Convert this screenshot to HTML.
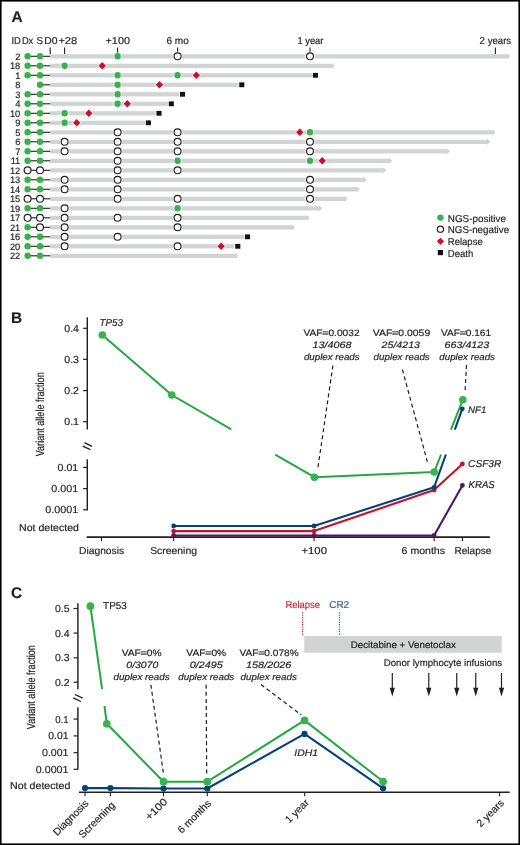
<!DOCTYPE html>
<html><head><meta charset="utf-8"><style>
html,body{margin:0;padding:0;background:#fff;}
svg{display:block;will-change:transform;}
text{font-family:"Liberation Sans", sans-serif;text-rendering:geometricPrecision;stroke:currentColor;stroke-width:0.18px;color:#231f20;}
</style></head><body>
<svg width="520" height="845" viewBox="0 0 520 845">
<rect width="520" height="845" fill="#fff"/>
<text x="11.40" y="21.90" style="font-size:15.4px;color:#231f20;stroke-width:0.18;font-weight:bold;" fill="#231f20" >A</text>
<text x="16.20" y="43.50" text-anchor="middle" textLength="9.40" lengthAdjust="spacingAndGlyphs" style="font-size:10.0px;color:#231f20;stroke-width:0.18;" fill="#231f20" >ID</text>
<text x="27.60" y="43.50" text-anchor="middle" textLength="11.40" lengthAdjust="spacingAndGlyphs" style="font-size:10.0px;color:#231f20;stroke-width:0.18;" fill="#231f20" >Dx</text>
<text x="39.70" y="43.50" text-anchor="middle" textLength="6.60" lengthAdjust="spacingAndGlyphs" style="font-size:10.0px;color:#231f20;stroke-width:0.18;" fill="#231f20" >S</text>
<text x="50.95" y="43.50" text-anchor="middle" textLength="13.30" lengthAdjust="spacingAndGlyphs" style="font-size:10.0px;color:#231f20;stroke-width:0.18;" fill="#231f20" >D0</text>
<text x="67.80" y="43.50" text-anchor="middle" textLength="18.80" lengthAdjust="spacingAndGlyphs" style="font-size:10.0px;color:#231f20;stroke-width:0.18;" fill="#231f20" >+28</text>
<text x="117.75" y="43.50" text-anchor="middle" textLength="24.50" lengthAdjust="spacingAndGlyphs" style="font-size:10.0px;color:#231f20;stroke-width:0.18;" fill="#231f20" >+100</text>
<text x="177.60" y="43.50" text-anchor="middle" textLength="22.40" lengthAdjust="spacingAndGlyphs" style="font-size:10.0px;color:#231f20;stroke-width:0.18;" fill="#231f20" >6 mo</text>
<text x="310.45" y="43.50" text-anchor="middle" textLength="25.90" lengthAdjust="spacingAndGlyphs" style="font-size:10.0px;color:#231f20;stroke-width:0.18;" fill="#231f20" >1 year</text>
<text x="495.40" y="43.50" text-anchor="middle" textLength="31.60" lengthAdjust="spacingAndGlyphs" style="font-size:10.0px;color:#231f20;stroke-width:0.18;" fill="#231f20" >2 years</text>
<line x1="50.20" y1="47.60" x2="50.20" y2="54.20" stroke="#231f20" stroke-width="1.1" />
<line x1="64.60" y1="47.60" x2="64.60" y2="54.20" stroke="#231f20" stroke-width="1.1" />
<line x1="117.60" y1="47.60" x2="117.60" y2="54.20" stroke="#231f20" stroke-width="1.1" />
<line x1="177.60" y1="47.60" x2="177.60" y2="54.20" stroke="#231f20" stroke-width="1.1" />
<line x1="310.00" y1="47.60" x2="310.00" y2="54.20" stroke="#231f20" stroke-width="1.1" />
<line x1="495.40" y1="47.60" x2="495.40" y2="54.20" stroke="#231f20" stroke-width="1.1" />
<text x="20.30" y="59.60" text-anchor="end" style="font-size:9.3px;color:#231f20;stroke-width:0.18;" fill="#231f20" >2</text>
<path d="M50.20,54.20 H507.40 V53.20 L510.40,56.30 L507.40,59.40 V58.40 H50.20 Z" fill="#d1d3d4"/>
<line x1="27.60" y1="56.30" x2="50.20" y2="56.30" stroke="#231f20" stroke-width="1.1" />
<circle cx="27.60" cy="56.30" r="3.2" fill="#36b34a"/>
<circle cx="40.00" cy="56.30" r="3.2" fill="#36b34a"/>
<circle cx="117.60" cy="56.30" r="3.9000000000000004" fill="#fff"/>
<circle cx="117.60" cy="56.30" r="3.2" fill="#36b34a"/>
<circle cx="177.60" cy="56.30" r="4.65" fill="#fff"/>
<circle cx="177.60" cy="56.30" r="3.45" fill="#fff" stroke="#231f20" stroke-width="1.15"/>
<circle cx="310.00" cy="56.30" r="4.65" fill="#fff"/>
<circle cx="310.00" cy="56.30" r="3.45" fill="#fff" stroke="#231f20" stroke-width="1.15"/>
<text x="20.30" y="69.10" text-anchor="end" style="font-size:9.3px;color:#231f20;stroke-width:0.18;" fill="#231f20" >18</text>
<path d="M50.20,63.70 H331.80 V62.70 L334.80,65.80 L331.80,68.90 V67.90 H50.20 Z" fill="#d1d3d4"/>
<line x1="27.60" y1="65.80" x2="50.20" y2="65.80" stroke="#231f20" stroke-width="1.1" />
<circle cx="27.60" cy="65.80" r="3.2" fill="#36b34a"/>
<circle cx="40.00" cy="65.80" r="3.2" fill="#36b34a"/>
<circle cx="64.60" cy="65.80" r="3.9000000000000004" fill="#fff"/>
<circle cx="64.60" cy="65.80" r="3.2" fill="#36b34a"/>
<polygon points="102.20,61.30 106.70,65.80 102.20,70.30 97.70,65.80" fill="#fff"/>
<polygon points="102.20,62.10 105.90,65.80 102.20,69.50 98.50,65.80" fill="#c8102e"/>
<text x="20.30" y="78.60" text-anchor="end" style="font-size:9.3px;color:#231f20;stroke-width:0.18;" fill="#231f20" >1</text>
<rect x="50.20" y="73.20" width="265.20" height="4.2" fill="#d1d3d4"/>
<line x1="27.60" y1="75.30" x2="50.20" y2="75.30" stroke="#231f20" stroke-width="1.1" />
<circle cx="27.60" cy="75.30" r="3.2" fill="#36b34a"/>
<circle cx="40.00" cy="75.30" r="3.2" fill="#36b34a"/>
<circle cx="117.60" cy="75.30" r="3.9000000000000004" fill="#fff"/>
<circle cx="117.60" cy="75.30" r="3.2" fill="#36b34a"/>
<circle cx="177.60" cy="75.30" r="3.9000000000000004" fill="#fff"/>
<circle cx="177.60" cy="75.30" r="3.2" fill="#36b34a"/>
<polygon points="196.30,70.80 200.80,75.30 196.30,79.80 191.80,75.30" fill="#fff"/>
<polygon points="196.30,71.60 200.00,75.30 196.30,79.00 192.60,75.30" fill="#c8102e"/>
<rect x="312.10" y="72.10" width="6.6" height="6.4" fill="#fff"/>
<rect x="312.85" y="72.90" width="5.1" height="4.8" fill="#111"/>
<text x="20.30" y="88.10" text-anchor="end" style="font-size:9.3px;color:#231f20;stroke-width:0.18;" fill="#231f20" >8</text>
<rect x="50.20" y="82.70" width="191.60" height="4.2" fill="#d1d3d4"/>
<line x1="40.00" y1="84.80" x2="50.20" y2="84.80" stroke="#231f20" stroke-width="1.1" />
<circle cx="40.00" cy="84.80" r="3.2" fill="#36b34a"/>
<circle cx="117.60" cy="84.80" r="3.9000000000000004" fill="#fff"/>
<circle cx="117.60" cy="84.80" r="3.2" fill="#36b34a"/>
<polygon points="159.40,80.30 163.90,84.80 159.40,89.30 154.90,84.80" fill="#fff"/>
<polygon points="159.40,81.10 163.10,84.80 159.40,88.50 155.70,84.80" fill="#c8102e"/>
<rect x="238.50" y="81.60" width="6.6" height="6.4" fill="#fff"/>
<rect x="239.25" y="82.40" width="5.1" height="4.8" fill="#111"/>
<text x="20.30" y="97.60" text-anchor="end" style="font-size:9.3px;color:#231f20;stroke-width:0.18;" fill="#231f20" >3</text>
<rect x="50.20" y="92.20" width="132.30" height="4.2" fill="#d1d3d4"/>
<line x1="27.60" y1="94.30" x2="50.20" y2="94.30" stroke="#231f20" stroke-width="1.1" />
<circle cx="27.60" cy="94.30" r="3.2" fill="#36b34a"/>
<circle cx="40.00" cy="94.30" r="3.2" fill="#36b34a"/>
<circle cx="117.60" cy="94.30" r="3.9000000000000004" fill="#fff"/>
<circle cx="117.60" cy="94.30" r="3.2" fill="#36b34a"/>
<rect x="179.20" y="91.10" width="6.6" height="6.4" fill="#fff"/>
<rect x="179.95" y="91.90" width="5.1" height="4.8" fill="#111"/>
<text x="20.30" y="107.10" text-anchor="end" style="font-size:9.3px;color:#231f20;stroke-width:0.18;" fill="#231f20" >4</text>
<rect x="50.20" y="101.70" width="121.10" height="4.2" fill="#d1d3d4"/>
<line x1="27.60" y1="103.80" x2="50.20" y2="103.80" stroke="#231f20" stroke-width="1.1" />
<circle cx="27.60" cy="103.80" r="3.2" fill="#36b34a"/>
<circle cx="40.00" cy="103.80" r="3.2" fill="#36b34a"/>
<circle cx="117.60" cy="103.80" r="3.9000000000000004" fill="#fff"/>
<circle cx="117.60" cy="103.80" r="3.2" fill="#36b34a"/>
<polygon points="127.30,99.30 131.80,103.80 127.30,108.30 122.80,103.80" fill="#fff"/>
<polygon points="127.30,100.10 131.00,103.80 127.30,107.50 123.60,103.80" fill="#c8102e"/>
<rect x="168.00" y="100.60" width="6.6" height="6.4" fill="#fff"/>
<rect x="168.75" y="101.40" width="5.1" height="4.8" fill="#111"/>
<text x="20.30" y="116.60" text-anchor="end" style="font-size:9.3px;color:#231f20;stroke-width:0.18;" fill="#231f20" >10</text>
<rect x="50.20" y="111.20" width="108.80" height="4.2" fill="#d1d3d4"/>
<line x1="27.60" y1="113.30" x2="50.20" y2="113.30" stroke="#231f20" stroke-width="1.1" />
<circle cx="27.60" cy="113.30" r="3.2" fill="#36b34a"/>
<circle cx="40.00" cy="113.30" r="3.2" fill="#36b34a"/>
<circle cx="64.60" cy="113.30" r="3.9000000000000004" fill="#fff"/>
<circle cx="64.60" cy="113.30" r="3.2" fill="#36b34a"/>
<polygon points="88.80,108.80 93.30,113.30 88.80,117.80 84.30,113.30" fill="#fff"/>
<polygon points="88.80,109.60 92.50,113.30 88.80,117.00 85.10,113.30" fill="#c8102e"/>
<rect x="155.70" y="110.10" width="6.6" height="6.4" fill="#fff"/>
<rect x="156.45" y="110.90" width="5.1" height="4.8" fill="#111"/>
<text x="20.30" y="126.10" text-anchor="end" style="font-size:9.3px;color:#231f20;stroke-width:0.18;" fill="#231f20" >9</text>
<rect x="50.20" y="120.70" width="98.20" height="4.2" fill="#d1d3d4"/>
<line x1="27.60" y1="122.80" x2="50.20" y2="122.80" stroke="#231f20" stroke-width="1.1" />
<circle cx="27.60" cy="122.80" r="3.2" fill="#36b34a"/>
<circle cx="40.00" cy="122.80" r="3.2" fill="#36b34a"/>
<circle cx="64.60" cy="122.80" r="3.9000000000000004" fill="#fff"/>
<circle cx="64.60" cy="122.80" r="3.2" fill="#36b34a"/>
<polygon points="76.70,118.30 81.20,122.80 76.70,127.30 72.20,122.80" fill="#fff"/>
<polygon points="76.70,119.10 80.40,122.80 76.70,126.50 73.00,122.80" fill="#c8102e"/>
<rect x="145.10" y="119.60" width="6.6" height="6.4" fill="#fff"/>
<rect x="145.85" y="120.40" width="5.1" height="4.8" fill="#111"/>
<text x="20.30" y="135.60" text-anchor="end" style="font-size:9.3px;color:#231f20;stroke-width:0.18;" fill="#231f20" >5</text>
<path d="M50.20,130.20 H492.50 V129.20 L495.50,132.30 L492.50,135.40 V134.40 H50.20 Z" fill="#d1d3d4"/>
<line x1="27.60" y1="132.30" x2="50.20" y2="132.30" stroke="#231f20" stroke-width="1.1" />
<circle cx="27.60" cy="132.30" r="3.2" fill="#36b34a"/>
<circle cx="40.00" cy="132.30" r="3.2" fill="#36b34a"/>
<circle cx="117.60" cy="132.30" r="4.65" fill="#fff"/>
<circle cx="117.60" cy="132.30" r="3.45" fill="#fff" stroke="#231f20" stroke-width="1.15"/>
<circle cx="177.60" cy="132.30" r="4.65" fill="#fff"/>
<circle cx="177.60" cy="132.30" r="3.45" fill="#fff" stroke="#231f20" stroke-width="1.15"/>
<polygon points="299.80,127.80 304.30,132.30 299.80,136.80 295.30,132.30" fill="#fff"/>
<polygon points="299.80,128.60 303.50,132.30 299.80,136.00 296.10,132.30" fill="#c8102e"/>
<circle cx="310.00" cy="132.30" r="3.9000000000000004" fill="#fff"/>
<circle cx="310.00" cy="132.30" r="3.2" fill="#36b34a"/>
<text x="20.30" y="145.10" text-anchor="end" style="font-size:9.3px;color:#231f20;stroke-width:0.18;" fill="#231f20" >6</text>
<path d="M50.20,139.70 H487.20 V138.70 L490.20,141.80 L487.20,144.90 V143.90 H50.20 Z" fill="#d1d3d4"/>
<line x1="27.60" y1="141.80" x2="50.20" y2="141.80" stroke="#231f20" stroke-width="1.1" />
<circle cx="27.60" cy="141.80" r="3.2" fill="#36b34a"/>
<circle cx="40.00" cy="141.80" r="3.2" fill="#36b34a"/>
<circle cx="64.60" cy="141.80" r="4.65" fill="#fff"/>
<circle cx="64.60" cy="141.80" r="3.45" fill="#fff" stroke="#231f20" stroke-width="1.15"/>
<circle cx="117.60" cy="141.80" r="4.65" fill="#fff"/>
<circle cx="117.60" cy="141.80" r="3.45" fill="#fff" stroke="#231f20" stroke-width="1.15"/>
<circle cx="177.60" cy="141.80" r="4.65" fill="#fff"/>
<circle cx="177.60" cy="141.80" r="3.45" fill="#fff" stroke="#231f20" stroke-width="1.15"/>
<circle cx="310.00" cy="141.80" r="4.65" fill="#fff"/>
<circle cx="310.00" cy="141.80" r="3.45" fill="#fff" stroke="#231f20" stroke-width="1.15"/>
<text x="20.30" y="154.60" text-anchor="end" style="font-size:9.3px;color:#231f20;stroke-width:0.18;" fill="#231f20" >7</text>
<path d="M50.20,149.20 H446.80 V148.20 L449.80,151.30 L446.80,154.40 V153.40 H50.20 Z" fill="#d1d3d4"/>
<line x1="27.60" y1="151.30" x2="50.20" y2="151.30" stroke="#231f20" stroke-width="1.1" />
<circle cx="27.60" cy="151.30" r="3.2" fill="#36b34a"/>
<circle cx="40.00" cy="151.30" r="3.2" fill="#36b34a"/>
<circle cx="64.60" cy="151.30" r="4.65" fill="#fff"/>
<circle cx="64.60" cy="151.30" r="3.45" fill="#fff" stroke="#231f20" stroke-width="1.15"/>
<circle cx="117.60" cy="151.30" r="4.65" fill="#fff"/>
<circle cx="117.60" cy="151.30" r="3.45" fill="#fff" stroke="#231f20" stroke-width="1.15"/>
<circle cx="177.60" cy="151.30" r="4.65" fill="#fff"/>
<circle cx="177.60" cy="151.30" r="3.45" fill="#fff" stroke="#231f20" stroke-width="1.15"/>
<circle cx="310.00" cy="151.30" r="4.65" fill="#fff"/>
<circle cx="310.00" cy="151.30" r="3.45" fill="#fff" stroke="#231f20" stroke-width="1.15"/>
<text x="20.30" y="164.10" text-anchor="end" style="font-size:9.3px;color:#231f20;stroke-width:0.18;" fill="#231f20" >11</text>
<path d="M50.20,158.70 H389.30 V157.70 L392.30,160.80 L389.30,163.90 V162.90 H50.20 Z" fill="#d1d3d4"/>
<line x1="27.60" y1="160.80" x2="50.20" y2="160.80" stroke="#231f20" stroke-width="1.1" />
<circle cx="27.60" cy="160.80" r="3.2" fill="#36b34a"/>
<circle cx="40.00" cy="160.80" r="3.2" fill="#36b34a"/>
<circle cx="117.60" cy="160.80" r="4.65" fill="#fff"/>
<circle cx="117.60" cy="160.80" r="3.45" fill="#fff" stroke="#231f20" stroke-width="1.15"/>
<circle cx="177.60" cy="160.80" r="3.9000000000000004" fill="#fff"/>
<circle cx="177.60" cy="160.80" r="3.2" fill="#36b34a"/>
<circle cx="310.00" cy="160.80" r="3.9000000000000004" fill="#fff"/>
<circle cx="310.00" cy="160.80" r="3.2" fill="#36b34a"/>
<polygon points="322.20,156.30 326.70,160.80 322.20,165.30 317.70,160.80" fill="#fff"/>
<polygon points="322.20,157.10 325.90,160.80 322.20,164.50 318.50,160.80" fill="#c8102e"/>
<text x="20.30" y="173.60" text-anchor="end" style="font-size:9.3px;color:#231f20;stroke-width:0.18;" fill="#231f20" >12</text>
<path d="M50.20,168.20 H383.10 V167.20 L386.10,170.30 L383.10,173.40 V172.40 H50.20 Z" fill="#d1d3d4"/>
<line x1="27.60" y1="170.30" x2="50.20" y2="170.30" stroke="#231f20" stroke-width="1.1" />
<circle cx="27.60" cy="170.30" r="3.45" fill="#fff" stroke="#231f20" stroke-width="1.15"/>
<circle cx="40.00" cy="170.30" r="3.45" fill="#fff" stroke="#231f20" stroke-width="1.15"/>
<circle cx="117.60" cy="170.30" r="4.65" fill="#fff"/>
<circle cx="117.60" cy="170.30" r="3.45" fill="#fff" stroke="#231f20" stroke-width="1.15"/>
<circle cx="177.60" cy="170.30" r="4.65" fill="#fff"/>
<circle cx="177.60" cy="170.30" r="3.45" fill="#fff" stroke="#231f20" stroke-width="1.15"/>
<text x="20.30" y="183.10" text-anchor="end" style="font-size:9.3px;color:#231f20;stroke-width:0.18;" fill="#231f20" >13</text>
<path d="M50.20,177.70 H363.70 V176.70 L366.70,179.80 L363.70,182.90 V181.90 H50.20 Z" fill="#d1d3d4"/>
<line x1="27.60" y1="179.80" x2="50.20" y2="179.80" stroke="#231f20" stroke-width="1.1" />
<circle cx="27.60" cy="179.80" r="3.2" fill="#36b34a"/>
<circle cx="40.00" cy="179.80" r="3.2" fill="#36b34a"/>
<circle cx="64.60" cy="179.80" r="4.65" fill="#fff"/>
<circle cx="64.60" cy="179.80" r="3.45" fill="#fff" stroke="#231f20" stroke-width="1.15"/>
<circle cx="117.60" cy="179.80" r="4.65" fill="#fff"/>
<circle cx="117.60" cy="179.80" r="3.45" fill="#fff" stroke="#231f20" stroke-width="1.15"/>
<circle cx="310.00" cy="179.80" r="4.65" fill="#fff"/>
<circle cx="310.00" cy="179.80" r="3.45" fill="#fff" stroke="#231f20" stroke-width="1.15"/>
<text x="20.30" y="192.60" text-anchor="end" style="font-size:9.3px;color:#231f20;stroke-width:0.18;" fill="#231f20" >14</text>
<path d="M50.20,187.20 H356.80 V186.20 L359.80,189.30 L356.80,192.40 V191.40 H50.20 Z" fill="#d1d3d4"/>
<line x1="27.60" y1="189.30" x2="50.20" y2="189.30" stroke="#231f20" stroke-width="1.1" />
<circle cx="27.60" cy="189.30" r="3.2" fill="#36b34a"/>
<circle cx="40.00" cy="189.30" r="3.2" fill="#36b34a"/>
<circle cx="64.60" cy="189.30" r="4.65" fill="#fff"/>
<circle cx="64.60" cy="189.30" r="3.45" fill="#fff" stroke="#231f20" stroke-width="1.15"/>
<circle cx="117.60" cy="189.30" r="4.65" fill="#fff"/>
<circle cx="117.60" cy="189.30" r="3.45" fill="#fff" stroke="#231f20" stroke-width="1.15"/>
<circle cx="310.00" cy="189.30" r="4.65" fill="#fff"/>
<circle cx="310.00" cy="189.30" r="3.45" fill="#fff" stroke="#231f20" stroke-width="1.15"/>
<text x="20.30" y="202.10" text-anchor="end" style="font-size:9.3px;color:#231f20;stroke-width:0.18;" fill="#231f20" >15</text>
<path d="M50.20,196.70 H344.70 V195.70 L347.70,198.80 L344.70,201.90 V200.90 H50.20 Z" fill="#d1d3d4"/>
<line x1="27.60" y1="198.80" x2="50.20" y2="198.80" stroke="#231f20" stroke-width="1.1" />
<circle cx="27.60" cy="198.80" r="3.45" fill="#fff" stroke="#231f20" stroke-width="1.15"/>
<circle cx="40.00" cy="198.80" r="3.45" fill="#fff" stroke="#231f20" stroke-width="1.15"/>
<circle cx="117.60" cy="198.80" r="4.65" fill="#fff"/>
<circle cx="117.60" cy="198.80" r="3.45" fill="#fff" stroke="#231f20" stroke-width="1.15"/>
<circle cx="177.60" cy="198.80" r="4.65" fill="#fff"/>
<circle cx="177.60" cy="198.80" r="3.45" fill="#fff" stroke="#231f20" stroke-width="1.15"/>
<circle cx="310.00" cy="198.80" r="4.65" fill="#fff"/>
<circle cx="310.00" cy="198.80" r="3.45" fill="#fff" stroke="#231f20" stroke-width="1.15"/>
<text x="20.30" y="211.60" text-anchor="end" style="font-size:9.3px;color:#231f20;stroke-width:0.18;" fill="#231f20" >19</text>
<path d="M50.20,206.20 H319.20 V205.20 L322.20,208.30 L319.20,211.40 V210.40 H50.20 Z" fill="#d1d3d4"/>
<line x1="27.60" y1="208.30" x2="50.20" y2="208.30" stroke="#231f20" stroke-width="1.1" />
<circle cx="27.60" cy="208.30" r="3.2" fill="#36b34a"/>
<circle cx="40.00" cy="208.30" r="3.2" fill="#36b34a"/>
<circle cx="64.60" cy="208.30" r="4.65" fill="#fff"/>
<circle cx="64.60" cy="208.30" r="3.45" fill="#fff" stroke="#231f20" stroke-width="1.15"/>
<circle cx="177.60" cy="208.30" r="3.9000000000000004" fill="#fff"/>
<circle cx="177.60" cy="208.30" r="3.2" fill="#36b34a"/>
<text x="20.30" y="221.10" text-anchor="end" style="font-size:9.3px;color:#231f20;stroke-width:0.18;" fill="#231f20" >17</text>
<path d="M50.20,215.70 H306.70 V214.70 L309.70,217.80 L306.70,220.90 V219.90 H50.20 Z" fill="#d1d3d4"/>
<line x1="27.60" y1="217.80" x2="50.20" y2="217.80" stroke="#231f20" stroke-width="1.1" />
<circle cx="27.60" cy="217.80" r="3.45" fill="#fff" stroke="#231f20" stroke-width="1.15"/>
<circle cx="40.00" cy="217.80" r="3.45" fill="#fff" stroke="#231f20" stroke-width="1.15"/>
<circle cx="64.60" cy="217.80" r="4.65" fill="#fff"/>
<circle cx="64.60" cy="217.80" r="3.45" fill="#fff" stroke="#231f20" stroke-width="1.15"/>
<circle cx="117.60" cy="217.80" r="4.65" fill="#fff"/>
<circle cx="117.60" cy="217.80" r="3.45" fill="#fff" stroke="#231f20" stroke-width="1.15"/>
<circle cx="177.60" cy="217.80" r="4.65" fill="#fff"/>
<circle cx="177.60" cy="217.80" r="3.45" fill="#fff" stroke="#231f20" stroke-width="1.15"/>
<text x="20.30" y="230.60" text-anchor="end" style="font-size:9.3px;color:#231f20;stroke-width:0.18;" fill="#231f20" >21</text>
<path d="M50.20,225.20 H292.10 V224.20 L295.10,227.30 L292.10,230.40 V229.40 H50.20 Z" fill="#d1d3d4"/>
<line x1="27.60" y1="227.30" x2="50.20" y2="227.30" stroke="#231f20" stroke-width="1.1" />
<circle cx="27.60" cy="227.30" r="3.2" fill="#36b34a"/>
<circle cx="40.00" cy="227.30" r="3.45" fill="#fff" stroke="#231f20" stroke-width="1.15"/>
<circle cx="64.60" cy="227.30" r="4.65" fill="#fff"/>
<circle cx="64.60" cy="227.30" r="3.45" fill="#fff" stroke="#231f20" stroke-width="1.15"/>
<circle cx="177.60" cy="227.30" r="4.65" fill="#fff"/>
<circle cx="177.60" cy="227.30" r="3.45" fill="#fff" stroke="#231f20" stroke-width="1.15"/>
<text x="20.30" y="240.10" text-anchor="end" style="font-size:9.3px;color:#231f20;stroke-width:0.18;" fill="#231f20" >16</text>
<rect x="50.20" y="234.70" width="197.30" height="4.2" fill="#d1d3d4"/>
<line x1="27.60" y1="236.80" x2="50.20" y2="236.80" stroke="#231f20" stroke-width="1.1" />
<circle cx="27.60" cy="236.80" r="3.2" fill="#36b34a"/>
<circle cx="40.00" cy="236.80" r="3.2" fill="#36b34a"/>
<circle cx="64.60" cy="236.80" r="4.65" fill="#fff"/>
<circle cx="64.60" cy="236.80" r="3.45" fill="#fff" stroke="#231f20" stroke-width="1.15"/>
<circle cx="117.60" cy="236.80" r="4.65" fill="#fff"/>
<circle cx="117.60" cy="236.80" r="3.45" fill="#fff" stroke="#231f20" stroke-width="1.15"/>
<rect x="244.20" y="233.60" width="6.6" height="6.4" fill="#fff"/>
<rect x="244.95" y="234.40" width="5.1" height="4.8" fill="#111"/>
<text x="20.30" y="249.60" text-anchor="end" style="font-size:9.3px;color:#231f20;stroke-width:0.18;" fill="#231f20" >20</text>
<rect x="50.20" y="244.20" width="187.60" height="4.2" fill="#d1d3d4"/>
<line x1="27.60" y1="246.30" x2="50.20" y2="246.30" stroke="#231f20" stroke-width="1.1" />
<circle cx="27.60" cy="246.30" r="3.2" fill="#36b34a"/>
<circle cx="40.00" cy="246.30" r="3.2" fill="#36b34a"/>
<circle cx="64.60" cy="246.30" r="4.65" fill="#fff"/>
<circle cx="64.60" cy="246.30" r="3.45" fill="#fff" stroke="#231f20" stroke-width="1.15"/>
<circle cx="177.60" cy="246.30" r="4.65" fill="#fff"/>
<circle cx="177.60" cy="246.30" r="3.45" fill="#fff" stroke="#231f20" stroke-width="1.15"/>
<polygon points="221.10,241.80 225.60,246.30 221.10,250.80 216.60,246.30" fill="#fff"/>
<polygon points="221.10,242.60 224.80,246.30 221.10,250.00 217.40,246.30" fill="#c8102e"/>
<rect x="234.50" y="243.10" width="6.6" height="6.4" fill="#fff"/>
<rect x="235.25" y="243.90" width="5.1" height="4.8" fill="#111"/>
<text x="20.30" y="259.10" text-anchor="end" style="font-size:9.3px;color:#231f20;stroke-width:0.18;" fill="#231f20" >22</text>
<path d="M50.20,253.70 H235.50 V252.70 L238.50,255.80 L235.50,258.90 V257.90 H50.20 Z" fill="#d1d3d4"/>
<line x1="27.60" y1="255.80" x2="50.20" y2="255.80" stroke="#231f20" stroke-width="1.1" />
<circle cx="27.60" cy="255.80" r="3.2" fill="#36b34a"/>
<circle cx="40.00" cy="255.80" r="3.2" fill="#36b34a"/>
<circle cx="440.40" cy="217.60" r="3.2" fill="#36b34a"/>
<text x="476.90" y="221.50" text-anchor="middle" textLength="58.20" lengthAdjust="spacingAndGlyphs" style="font-size:10px;color:#231f20;stroke-width:0.18;" fill="#231f20" >NGS-positive</text>
<circle cx="440.4" cy="229.2" r="3.1" fill="#fff" stroke="#231f20" stroke-width="1.15"/>
<text x="478.45" y="233.10" text-anchor="middle" textLength="61.30" lengthAdjust="spacingAndGlyphs" style="font-size:10px;color:#231f20;stroke-width:0.18;" fill="#231f20" >NGS-negative</text>
<polygon points="440.4,237.70000000000002 444.0,241.3 440.4,244.9 436.79999999999995,241.3" fill="#c8102e"/>
<text x="465.25" y="245.20" text-anchor="middle" textLength="34.90" lengthAdjust="spacingAndGlyphs" style="font-size:10px;color:#231f20;stroke-width:0.18;" fill="#231f20" >Relapse</text>
<rect x="437.79999999999995" y="250.0" width="5.2" height="5.2" fill="#111"/>
<text x="460.55" y="256.50" text-anchor="middle" textLength="25.50" lengthAdjust="spacingAndGlyphs" style="font-size:10px;color:#231f20;stroke-width:0.18;" fill="#231f20" >Death</text>
<text x="11.00" y="323.00" style="font-size:15.4px;color:#231f20;stroke-width:0.18;font-weight:bold;" fill="#231f20" >B</text>
<line x1="87.30" y1="317.30" x2="87.30" y2="429.50" stroke="#231f20" stroke-width="1.45" />
<line x1="83.10" y1="328.30" x2="87.30" y2="328.30" stroke="#231f20" stroke-width="1.2" />
<text x="71.65" y="331.70" text-anchor="middle" textLength="14.72" lengthAdjust="spacingAndGlyphs" style="font-size:10.2px;color:#231f20;stroke-width:0.18;" fill="#231f20" >0.4</text>
<line x1="83.10" y1="359.30" x2="87.30" y2="359.30" stroke="#231f20" stroke-width="1.2" />
<text x="71.65" y="362.70" text-anchor="middle" textLength="14.72" lengthAdjust="spacingAndGlyphs" style="font-size:10.2px;color:#231f20;stroke-width:0.18;" fill="#231f20" >0.3</text>
<line x1="83.10" y1="390.60" x2="87.30" y2="390.60" stroke="#231f20" stroke-width="1.2" />
<text x="71.65" y="394.00" text-anchor="middle" textLength="14.72" lengthAdjust="spacingAndGlyphs" style="font-size:10.2px;color:#231f20;stroke-width:0.18;" fill="#231f20" >0.2</text>
<line x1="83.10" y1="421.75" x2="87.30" y2="421.75" stroke="#231f20" stroke-width="1.2" />
<text x="71.65" y="425.15" text-anchor="middle" textLength="14.72" lengthAdjust="spacingAndGlyphs" style="font-size:10.2px;color:#231f20;stroke-width:0.18;" fill="#231f20" >0.1</text>
<line x1="87.30" y1="459.30" x2="87.30" y2="510.40" stroke="#231f20" stroke-width="1.45" />
<line x1="83.10" y1="467.40" x2="87.30" y2="467.40" stroke="#231f20" stroke-width="1.2" />
<text x="67.90" y="470.80" text-anchor="middle" textLength="20.62" lengthAdjust="spacingAndGlyphs" style="font-size:10.2px;color:#231f20;stroke-width:0.18;" fill="#231f20" >0.01</text>
<line x1="83.10" y1="488.60" x2="87.30" y2="488.60" stroke="#231f20" stroke-width="1.2" />
<text x="64.80" y="492.00" text-anchor="middle" textLength="26.82" lengthAdjust="spacingAndGlyphs" style="font-size:10.2px;color:#231f20;stroke-width:0.18;" fill="#231f20" >0.001</text>
<line x1="83.10" y1="509.80" x2="87.30" y2="509.80" stroke="#231f20" stroke-width="1.2" />
<text x="61.75" y="513.20" text-anchor="middle" textLength="32.92" lengthAdjust="spacingAndGlyphs" style="font-size:10.2px;color:#231f20;stroke-width:0.18;" fill="#231f20" >0.0001</text>
<line x1="84.50" y1="442.70" x2="91.90" y2="446.40" stroke="#231f20" stroke-width="1.3" />
<line x1="82.70" y1="446.20" x2="90.40" y2="449.60" stroke="#231f20" stroke-width="1.3" />
<text transform="translate(44.0,414.3) rotate(-90)" text-anchor="middle" textLength="84" lengthAdjust="spacingAndGlyphs" stroke="#231f20" stroke-width="0.25" style="font-size:11.7px;" fill="#231f20">Variant allele fraction</text>
<text x="49.00" y="530.60" text-anchor="middle" textLength="59.80" lengthAdjust="spacingAndGlyphs" style="font-size:10px;color:#231f20;stroke-width:0.18;" fill="#231f20" >Not detected</text>
<line x1="86.70" y1="537.15" x2="489.90" y2="537.15" stroke="#231f20" stroke-width="1.7" />
<line x1="101.50" y1="537.00" x2="101.50" y2="541.30" stroke="#231f20" stroke-width="1.1" />
<line x1="173.65" y1="537.00" x2="173.65" y2="541.30" stroke="#231f20" stroke-width="1.1" />
<line x1="314.05" y1="537.00" x2="314.05" y2="541.30" stroke="#231f20" stroke-width="1.1" />
<line x1="434.10" y1="537.00" x2="434.10" y2="541.30" stroke="#231f20" stroke-width="1.1" />
<line x1="462.40" y1="537.00" x2="462.40" y2="541.30" stroke="#231f20" stroke-width="1.1" />
<text x="101.60" y="553.60" text-anchor="middle" textLength="45.00" lengthAdjust="spacingAndGlyphs" style="font-size:10px;color:#231f20;stroke-width:0.18;" fill="#231f20" >Diagnosis</text>
<text x="173.60" y="553.60" text-anchor="middle" textLength="46.80" lengthAdjust="spacingAndGlyphs" style="font-size:10px;color:#231f20;stroke-width:0.18;" fill="#231f20" >Screening</text>
<text x="314.20" y="553.60" text-anchor="middle" textLength="25.60" lengthAdjust="spacingAndGlyphs" style="font-size:10px;color:#231f20;stroke-width:0.18;" fill="#231f20" >+100</text>
<text x="423.30" y="553.60" text-anchor="middle" textLength="43.40" lengthAdjust="spacingAndGlyphs" style="font-size:10px;color:#231f20;stroke-width:0.18;" fill="#231f20" >6 months</text>
<text x="472.95" y="553.60" text-anchor="middle" textLength="36.90" lengthAdjust="spacingAndGlyphs" style="font-size:10px;color:#231f20;stroke-width:0.18;" fill="#231f20" >Relapse</text>
<polyline points="173.65,535.50 314.05,535.50 434.10,535.50 462.40,485.40" fill="none" stroke="#4f1865" stroke-width="2.1" stroke-linejoin="round" />
<polyline points="173.65,531.10 314.05,531.10 434.10,490.00 462.40,463.90" fill="none" stroke="#c8102e" stroke-width="2.1" stroke-linejoin="round" />
<polyline points="173.65,526.00 314.05,526.00 434.10,487.30 445.90,454.50" fill="none" stroke="#064279" stroke-width="2.1" stroke-linejoin="round" />
<polyline points="454.80,429.60 462.30,408.80" fill="none" stroke="#064279" stroke-width="2.1" stroke-linejoin="round" />
<polyline points="102.30,335.00 171.80,395.00 231.30,429.30" fill="none" stroke="#22aa42" stroke-width="2.0" stroke-linejoin="round" />
<polyline points="275.20,454.60 314.40,477.20 434.20,472.00 441.05,454.50" fill="none" stroke="#22aa42" stroke-width="2.0" stroke-linejoin="round" />
<polyline points="450.90,429.60 462.80,399.80" fill="none" stroke="#22aa42" stroke-width="2.0" stroke-linejoin="round" />
<circle cx="173.65" cy="535.50" r="2.4" fill="#4f1865"/>
<circle cx="314.05" cy="535.50" r="2.4" fill="#4f1865"/>
<circle cx="434.10" cy="535.50" r="2.4" fill="#4f1865"/>
<circle cx="462.40" cy="485.40" r="2.4" fill="#4f1865"/>
<circle cx="173.65" cy="531.10" r="2.4" fill="#c8102e"/>
<circle cx="314.05" cy="531.10" r="2.4" fill="#c8102e"/>
<circle cx="434.10" cy="490.00" r="2.4" fill="#c8102e"/>
<circle cx="462.40" cy="463.90" r="2.4" fill="#c8102e"/>
<circle cx="173.65" cy="526.00" r="2.4" fill="#064279"/>
<circle cx="314.05" cy="526.00" r="2.4" fill="#064279"/>
<circle cx="434.10" cy="487.30" r="2.4" fill="#064279"/>
<circle cx="462.30" cy="408.80" r="2.4" fill="#064279"/>
<circle cx="102.30" cy="335.00" r="3.8" fill="#36b34a"/>
<circle cx="171.80" cy="395.00" r="3.8" fill="#36b34a"/>
<circle cx="314.40" cy="477.20" r="3.8" fill="#36b34a"/>
<circle cx="434.20" cy="472.00" r="3.8" fill="#36b34a"/>
<circle cx="462.80" cy="399.80" r="3.8" fill="#36b34a"/>
<text x="111.25" y="325.80" text-anchor="middle" textLength="23.30" lengthAdjust="spacingAndGlyphs" style="font-size:10px;color:#231f20;stroke-width:0.18;font-style:italic;" fill="#231f20" >TP53</text>
<text x="477.25" y="413.20" text-anchor="middle" textLength="18.24" lengthAdjust="spacingAndGlyphs" style="font-size:9.3px;color:#231f20;stroke-width:0.18;font-style:italic;" fill="#231f20" >NF1</text>
<text x="484.70" y="467.00" text-anchor="middle" textLength="33.20" lengthAdjust="spacingAndGlyphs" style="font-size:10px;color:#231f20;stroke-width:0.18;font-style:italic;" fill="#231f20" >CSF3R</text>
<text x="481.65" y="487.50" text-anchor="middle" textLength="26.30" lengthAdjust="spacingAndGlyphs" style="font-size:10px;color:#231f20;stroke-width:0.18;font-style:italic;" fill="#231f20" >KRAS</text>
<text x="331.50" y="335.60" text-anchor="middle" textLength="56.14" lengthAdjust="spacingAndGlyphs" style="font-size:9.3px;color:#231f20;stroke-width:0.18;" fill="#231f20" >VAF<tspan fill="#7a7a7a" stroke="#7a7a7a" stroke-width="0.9">=</tspan>0.0032</text>
<text x="332.10" y="347.90" text-anchor="middle" textLength="38.94" lengthAdjust="spacingAndGlyphs" style="font-size:9.3px;color:#231f20;stroke-width:0.18;font-style:italic;" fill="#231f20" >13/4068</text>
<text x="331.75" y="359.50" text-anchor="middle" textLength="55.64" lengthAdjust="spacingAndGlyphs" style="font-size:9.3px;color:#231f20;stroke-width:0.18;font-style:italic;" fill="#231f20" >duplex reads</text>
<text x="401.50" y="335.60" text-anchor="middle" textLength="57.34" lengthAdjust="spacingAndGlyphs" style="font-size:9.3px;color:#231f20;stroke-width:0.18;" fill="#231f20" >VAF<tspan fill="#7a7a7a" stroke="#7a7a7a" stroke-width="0.9">=</tspan>0.0059</text>
<text x="400.80" y="347.90" text-anchor="middle" textLength="38.34" lengthAdjust="spacingAndGlyphs" style="font-size:9.3px;color:#231f20;stroke-width:0.18;font-style:italic;" fill="#231f20" >25/4213</text>
<text x="401.70" y="359.50" text-anchor="middle" textLength="56.14" lengthAdjust="spacingAndGlyphs" style="font-size:9.3px;color:#231f20;stroke-width:0.18;font-style:italic;" fill="#231f20" >duplex reads</text>
<text x="466.10" y="335.60" text-anchor="middle" textLength="49.94" lengthAdjust="spacingAndGlyphs" style="font-size:9.3px;color:#231f20;stroke-width:0.18;" fill="#231f20" >VAF<tspan fill="#7a7a7a" stroke="#7a7a7a" stroke-width="0.9">=</tspan>0.161</text>
<text x="466.90" y="347.90" text-anchor="middle" textLength="44.54" lengthAdjust="spacingAndGlyphs" style="font-size:9.3px;color:#231f20;stroke-width:0.18;font-style:italic;" fill="#231f20" >663/4123</text>
<text x="467.15" y="359.50" text-anchor="middle" textLength="55.64" lengthAdjust="spacingAndGlyphs" style="font-size:9.3px;color:#231f20;stroke-width:0.18;font-style:italic;" fill="#231f20" >duplex reads</text>
<line x1="332.90" y1="365.50" x2="318.00" y2="467.20" stroke="#231f20" stroke-width="1.2" stroke-dasharray="4,3.05"/>
<line x1="402.40" y1="369.60" x2="427.70" y2="463.00" stroke="#231f20" stroke-width="1.2" stroke-dasharray="4,3.05"/>
<line x1="466.50" y1="365.00" x2="465.10" y2="390.40" stroke="#231f20" stroke-width="1.2" stroke-dasharray="4,3.05"/>
<text x="11.00" y="598.00" style="font-size:15.4px;color:#231f20;stroke-width:0.18;font-weight:bold;" fill="#231f20" >C</text>
<line x1="77.90" y1="603.30" x2="77.90" y2="689.20" stroke="#231f20" stroke-width="1.45" />
<line x1="73.60" y1="608.50" x2="77.90" y2="608.50" stroke="#231f20" stroke-width="1.2" />
<text x="62.30" y="612.00" text-anchor="middle" textLength="14.62" lengthAdjust="spacingAndGlyphs" style="font-size:10.2px;color:#231f20;stroke-width:0.18;" fill="#231f20" >0.5</text>
<line x1="73.60" y1="633.10" x2="77.90" y2="633.10" stroke="#231f20" stroke-width="1.2" />
<text x="62.30" y="636.60" text-anchor="middle" textLength="14.62" lengthAdjust="spacingAndGlyphs" style="font-size:10.2px;color:#231f20;stroke-width:0.18;" fill="#231f20" >0.4</text>
<line x1="73.60" y1="657.80" x2="77.90" y2="657.80" stroke="#231f20" stroke-width="1.2" />
<text x="62.30" y="661.30" text-anchor="middle" textLength="14.62" lengthAdjust="spacingAndGlyphs" style="font-size:10.2px;color:#231f20;stroke-width:0.18;" fill="#231f20" >0.3</text>
<line x1="73.60" y1="682.20" x2="77.90" y2="682.20" stroke="#231f20" stroke-width="1.2" />
<text x="62.30" y="685.70" text-anchor="middle" textLength="14.62" lengthAdjust="spacingAndGlyphs" style="font-size:10.2px;color:#231f20;stroke-width:0.18;" fill="#231f20" >0.2</text>
<line x1="77.90" y1="707.30" x2="77.90" y2="769.50" stroke="#231f20" stroke-width="1.45" />
<line x1="73.60" y1="719.10" x2="77.90" y2="719.10" stroke="#231f20" stroke-width="1.2" />
<text x="61.85" y="722.60" text-anchor="middle" textLength="13.32" lengthAdjust="spacingAndGlyphs" style="font-size:10.2px;color:#231f20;stroke-width:0.18;" fill="#231f20" >0.1</text>
<line x1="73.60" y1="735.90" x2="77.90" y2="735.90" stroke="#231f20" stroke-width="1.2" />
<text x="58.35" y="739.40" text-anchor="middle" textLength="20.32" lengthAdjust="spacingAndGlyphs" style="font-size:10.2px;color:#231f20;stroke-width:0.18;" fill="#231f20" >0.01</text>
<line x1="73.60" y1="752.70" x2="77.90" y2="752.70" stroke="#231f20" stroke-width="1.2" />
<text x="55.25" y="756.20" text-anchor="middle" textLength="26.52" lengthAdjust="spacingAndGlyphs" style="font-size:10.2px;color:#231f20;stroke-width:0.18;" fill="#231f20" >0.001</text>
<line x1="73.60" y1="769.30" x2="77.90" y2="769.30" stroke="#231f20" stroke-width="1.2" />
<text x="52.20" y="772.80" text-anchor="middle" textLength="32.62" lengthAdjust="spacingAndGlyphs" style="font-size:10.2px;color:#231f20;stroke-width:0.18;" fill="#231f20" >0.0001</text>
<line x1="75.00" y1="694.50" x2="82.70" y2="698.20" stroke="#231f20" stroke-width="1.3" />
<line x1="73.30" y1="697.90" x2="80.90" y2="701.50" stroke="#231f20" stroke-width="1.3" />
<text transform="translate(35.3,687.2) rotate(-90)" text-anchor="middle" textLength="84" lengthAdjust="spacingAndGlyphs" stroke="#231f20" stroke-width="0.25" style="font-size:11.7px;" fill="#231f20">Variant allele fraction</text>
<text x="40.25" y="789.00" text-anchor="middle" textLength="60.30" lengthAdjust="spacingAndGlyphs" style="font-size:10px;color:#231f20;stroke-width:0.18;" fill="#231f20" >Not detected</text>
<line x1="79.00" y1="792.25" x2="509.70" y2="792.25" stroke="#231f20" stroke-width="1.7" />
<line x1="85.00" y1="792.00" x2="85.00" y2="796.30" stroke="#231f20" stroke-width="1.1" />
<line x1="110.40" y1="792.00" x2="110.40" y2="796.30" stroke="#231f20" stroke-width="1.1" />
<line x1="163.50" y1="792.00" x2="163.50" y2="796.30" stroke="#231f20" stroke-width="1.1" />
<line x1="207.30" y1="792.00" x2="207.30" y2="796.30" stroke="#231f20" stroke-width="1.1" />
<line x1="304.70" y1="792.00" x2="304.70" y2="796.30" stroke="#231f20" stroke-width="1.1" />
<line x1="499.60" y1="792.00" x2="499.60" y2="796.30" stroke="#231f20" stroke-width="1.1" />
<text transform="translate(89.10,804.20) rotate(-45)" text-anchor="end"  style="font-size:10.3px;" fill="#231f20">Diagnosis</text>
<text transform="translate(115.60,806.00) rotate(-45)" text-anchor="end"  style="font-size:10.3px;" fill="#231f20">Screening</text>
<text transform="translate(167.90,802.40) rotate(-45)" text-anchor="end" textLength="25.9" lengthAdjust="spacingAndGlyphs" style="font-size:10.3px;" fill="#231f20">+100</text>
<text transform="translate(211.80,804.00) rotate(-45)" text-anchor="end"  style="font-size:10.3px;" fill="#231f20">6 months</text>
<text transform="translate(309.60,803.30) rotate(-45)" text-anchor="end"  style="font-size:10.3px;" fill="#231f20">1 year</text>
<text transform="translate(504.70,803.70) rotate(-45)" text-anchor="end"  style="font-size:10.3px;" fill="#231f20">2 years</text>
<polyline points="85.00,788.10 110.40,788.10 163.50,788.50 207.30,788.50 304.50,733.90 383.10,788.30" fill="none" stroke="#064279" stroke-width="2.1" stroke-linejoin="round" />
<polyline points="90.40,606.20 102.10,689.10" fill="none" stroke="#22aa42" stroke-width="2.0" stroke-linejoin="round" />
<polyline points="104.50,706.00 106.80,723.80 163.50,781.70 207.30,781.70 304.50,720.40 383.10,781.50" fill="none" stroke="#22aa42" stroke-width="2.0" stroke-linejoin="round" />
<circle cx="85.00" cy="788.10" r="3.1" fill="#064279"/>
<circle cx="110.40" cy="788.10" r="3.1" fill="#064279"/>
<circle cx="163.50" cy="788.50" r="3.1" fill="#064279"/>
<circle cx="207.30" cy="788.50" r="3.1" fill="#064279"/>
<circle cx="304.50" cy="733.90" r="3.1" fill="#064279"/>
<circle cx="383.10" cy="788.30" r="3.1" fill="#064279"/>
<circle cx="90.40" cy="606.20" r="3.85" fill="#36b34a"/>
<circle cx="106.80" cy="723.80" r="3.85" fill="#36b34a"/>
<circle cx="163.50" cy="781.70" r="3.85" fill="#36b34a"/>
<circle cx="207.30" cy="781.70" r="3.85" fill="#36b34a"/>
<circle cx="304.50" cy="720.40" r="3.85" fill="#36b34a"/>
<circle cx="383.10" cy="781.50" r="3.85" fill="#36b34a"/>
<text x="115.00" y="608.60" text-anchor="middle" textLength="23.80" lengthAdjust="spacingAndGlyphs" style="font-size:10px;color:#231f20;stroke-width:0.18;" fill="#231f20" >TP53</text>
<text x="306.20" y="756.40" text-anchor="middle" textLength="23.75" lengthAdjust="spacingAndGlyphs" style="font-size:9.4px;color:#231f20;stroke-width:0.18;font-style:italic;" fill="#231f20" >IDH1</text>
<text x="141.65" y="655.60" text-anchor="middle" textLength="39.84" lengthAdjust="spacingAndGlyphs" style="font-size:9.3px;color:#231f20;stroke-width:0.18;" fill="#231f20" >VAF<tspan fill="#7a7a7a" stroke="#7a7a7a" stroke-width="0.9">=</tspan>0%</text>
<text x="142.30" y="668.10" text-anchor="middle" textLength="31.94" lengthAdjust="spacingAndGlyphs" style="font-size:9.3px;color:#231f20;stroke-width:0.18;font-style:italic;" fill="#231f20" >0/3070</text>
<text x="141.60" y="679.60" text-anchor="middle" textLength="55.94" lengthAdjust="spacingAndGlyphs" style="font-size:9.3px;color:#231f20;stroke-width:0.18;font-style:italic;" fill="#231f20" >duplex reads</text>
<text x="206.25" y="655.60" text-anchor="middle" textLength="39.84" lengthAdjust="spacingAndGlyphs" style="font-size:9.3px;color:#231f20;stroke-width:0.18;" fill="#231f20" >VAF<tspan fill="#7a7a7a" stroke="#7a7a7a" stroke-width="0.9">=</tspan>0%</text>
<text x="206.25" y="668.10" text-anchor="middle" textLength="32.84" lengthAdjust="spacingAndGlyphs" style="font-size:9.3px;color:#231f20;stroke-width:0.18;font-style:italic;" fill="#231f20" >0/2495</text>
<text x="206.30" y="679.60" text-anchor="middle" textLength="55.94" lengthAdjust="spacingAndGlyphs" style="font-size:9.3px;color:#231f20;stroke-width:0.18;font-style:italic;" fill="#231f20" >duplex reads</text>
<text x="269.10" y="655.60" text-anchor="middle" textLength="59.14" lengthAdjust="spacingAndGlyphs" style="font-size:9.3px;color:#231f20;stroke-width:0.18;" fill="#231f20" >VAF<tspan fill="#7a7a7a" stroke="#7a7a7a" stroke-width="0.9">=</tspan>0.078%</text>
<text x="268.70" y="668.10" text-anchor="middle" textLength="45.34" lengthAdjust="spacingAndGlyphs" style="font-size:9.3px;color:#231f20;stroke-width:0.18;font-style:italic;" fill="#231f20" >158/2026</text>
<text x="268.75" y="679.60" text-anchor="middle" textLength="56.24" lengthAdjust="spacingAndGlyphs" style="font-size:9.3px;color:#231f20;stroke-width:0.18;font-style:italic;" fill="#231f20" >duplex reads</text>
<line x1="150.90" y1="684.80" x2="163.50" y2="774.00" stroke="#231f20" stroke-width="1.2" stroke-dasharray="4,3.05"/>
<line x1="206.10" y1="684.80" x2="206.70" y2="774.00" stroke="#231f20" stroke-width="1.2" stroke-dasharray="4,3.05"/>
<line x1="261.00" y1="684.60" x2="301.20" y2="714.90" stroke="#231f20" stroke-width="1.2" stroke-dasharray="4,3.05"/>
<text x="302.75" y="607.70" text-anchor="middle" textLength="34.70" lengthAdjust="spacingAndGlyphs" style="font-size:10px;color:#c8283c;stroke-width:0.18;" fill="#c8283c" >Relapse</text>
<text x="339.20" y="607.70" text-anchor="middle" textLength="20.00" lengthAdjust="spacingAndGlyphs" style="font-size:10px;color:#2b6aa3;stroke-width:0.18;" fill="#2b6aa3" >CR2</text>
<line x1="302.60" y1="612.30" x2="302.60" y2="636.00" stroke="#c8283c" stroke-width="1.3" stroke-dasharray="1.2,1.15"/>
<line x1="339.50" y1="612.30" x2="339.50" y2="635.00" stroke="#2b6aa3" stroke-width="1.3" stroke-dasharray="1.2,1.15"/>
<rect x="304.2" y="636.0" width="197.5" height="16.7" fill="#d1d3d4"/>
<text x="403.30" y="647.70" text-anchor="middle" textLength="105.17" lengthAdjust="spacingAndGlyphs" style="font-size:9.6px;color:#231f20;stroke-width:0.18;" fill="#231f20" >Decitabine + Venetoclax</text>
<text x="442.95" y="666.30" text-anchor="middle" textLength="118.27" lengthAdjust="spacingAndGlyphs" style="font-size:9.6px;color:#231f20;stroke-width:0.18;" fill="#231f20" >Donor lymphocyte infusions</text>
<line x1="392.30" y1="673.00" x2="392.30" y2="689.00" stroke="#231f20" stroke-width="1.2" />
<polygon points="389.70,687.8 394.90,687.8 392.30,696.4" fill="#231f20"/>
<line x1="428.80" y1="673.00" x2="428.80" y2="689.00" stroke="#231f20" stroke-width="1.2" />
<polygon points="426.20,687.8 431.40,687.8 428.80,696.4" fill="#231f20"/>
<line x1="456.75" y1="673.00" x2="456.75" y2="689.00" stroke="#231f20" stroke-width="1.2" />
<polygon points="454.15,687.8 459.35,687.8 456.75,696.4" fill="#231f20"/>
<line x1="475.75" y1="673.00" x2="475.75" y2="689.00" stroke="#231f20" stroke-width="1.2" />
<polygon points="473.15,687.8 478.35,687.8 475.75,696.4" fill="#231f20"/>
<line x1="501.50" y1="673.00" x2="501.50" y2="689.00" stroke="#231f20" stroke-width="1.2" />
<polygon points="498.90,687.8 504.10,687.8 501.50,696.4" fill="#231f20"/>
<rect x="0.8" y="0.8" width="518.4" height="843.4" fill="none" stroke="#000" stroke-width="1.6"/>
</svg>
</body></html>
